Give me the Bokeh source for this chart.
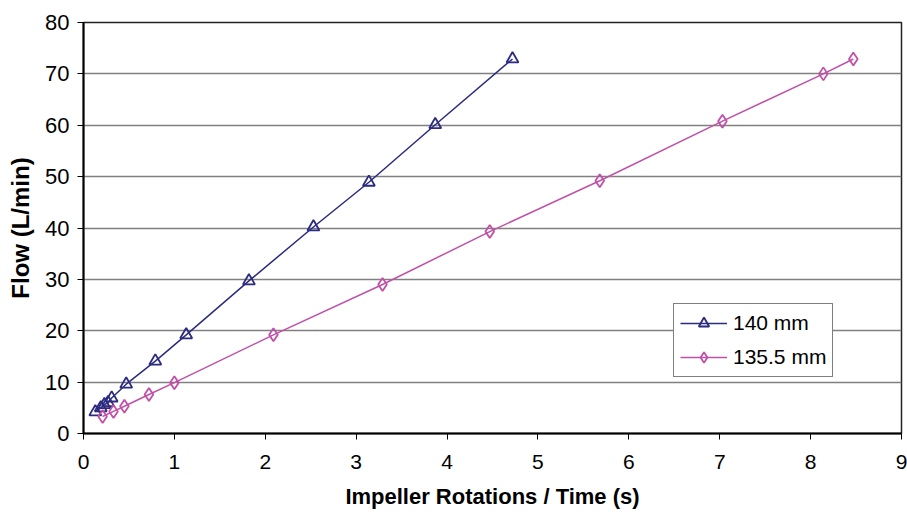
from bokeh.plotting import figure
from bokeh.models import Range1d, FixedTicker, Legend, LegendItem
from bokeh.embed import file_html
from bokeh.resources import INLINE

# 140 mm impeller
x_140 = [0.13, 0.19, 0.23, 0.27, 0.31, 0.47, 0.79, 1.13, 1.82, 2.53, 3.14, 3.87, 4.72]
y_140 = [4.2, 5.0, 5.6, 6.0, 6.9, 9.6, 14.1, 19.2, 29.7, 40.2, 48.9, 60.1, 72.9]

# 135.5 mm impeller
x_1355 = [0.21, 0.33, 0.45, 0.72, 1.00, 2.09, 3.29, 4.47, 5.68, 7.03, 8.14, 8.47]
y_1355 = [3.3, 4.3, 5.3, 7.6, 9.9, 19.2, 29.0, 39.3, 49.2, 60.8, 70.0, 72.9]

x_ticks = [0, 1, 2, 3, 4, 5, 6, 7, 8, 9]
y_ticks = [0, 10, 20, 30, 40, 50, 60, 70, 80]

NAVY = "#2B2B80"
PINK = "#C050A8"

p = figure(width=907, height=516, output_backend="svg", toolbar_location=None,
           x_range=Range1d(0, 9), y_range=Range1d(0, 80),
           min_border_left=83, min_border_right=6, min_border_top=22, min_border_bottom=83)

p.background_fill_color = "white"
p.border_fill_color = "white"
p.outline_line_color = "#222222"
p.outline_line_width = 1.5

p.xgrid.grid_line_color = None
p.ygrid.grid_line_color = "#808080"
p.ygrid.grid_line_width = 1.5

p.xaxis.ticker = FixedTicker(ticks=x_ticks)
p.yaxis.ticker = FixedTicker(ticks=y_ticks)
for ax in (p.xaxis[0], p.yaxis[0]):
    ax.axis_line_color = "black"
    ax.axis_line_width = 2
    ax.major_tick_line_color = "black"
    ax.major_tick_line_width = 1
    ax.major_tick_out = 6
    ax.major_tick_in = 0
    ax.minor_tick_line_color = None
    ax.major_label_text_color = "black"
    ax.axis_label_text_color = "black"
    ax.axis_label_text_font_style = "bold"

p.yaxis.major_label_text_font = "Liberation Sans"
p.yaxis.major_label_text_font_size = "22px"
p.yaxis.major_label_standoff = 8
p.yaxis.axis_label = "Flow (L/min)"
p.yaxis.axis_label_text_font = "Liberation Sans"
p.yaxis.axis_label_text_font_size = "24px"
p.yaxis.axis_label_standoff = 8

p.xaxis.major_label_text_font = "Liberation Sans"
p.xaxis.major_label_text_font_size = "21px"
p.xaxis.major_label_standoff = 15
p.xaxis.axis_label = "Impeller Rotations / Time (s)"
p.xaxis.axis_label_text_font = "Liberation Sans"
p.xaxis.axis_label_text_font_size = "22px"
p.xaxis.axis_label_standoff = 12

l1 = p.line(x_140, y_140, line_color=NAVY, line_width=1.5)
m1 = p.scatter(x_140, y_140, marker="triangle", size=12, fill_color="white", fill_alpha=0,
               line_color=NAVY, line_width=1.8)
l2 = p.line(x_1355, y_1355, line_color=PINK, line_width=1.5)
m2 = p.scatter(x_1355, y_1355, marker="diamond", size=13, fill_color="white", fill_alpha=0,
               line_color=PINK, line_width=1.8)

legend = Legend(items=[LegendItem(label="140 mm", renderers=[l1, m1]),
                       LegendItem(label="135.5 mm", renderers=[l2, m2])],
                location=(590, 56))
legend.label_text_font = "Liberation Sans"
legend.label_text_font_size = "21px"
legend.label_text_color = "black"
legend.glyph_width = 47
legend.glyph_height = 26
legend.label_height = 26
legend.spacing = 8
legend.padding = 6
legend.margin = 0
legend.label_standoff = 6
legend.border_line_color = "black"
legend.border_line_width = 1
legend.background_fill_color = "white"
legend.background_fill_alpha = 1
p.add_layout(legend)

open("out.html", "w").write(file_html(p, INLINE))
